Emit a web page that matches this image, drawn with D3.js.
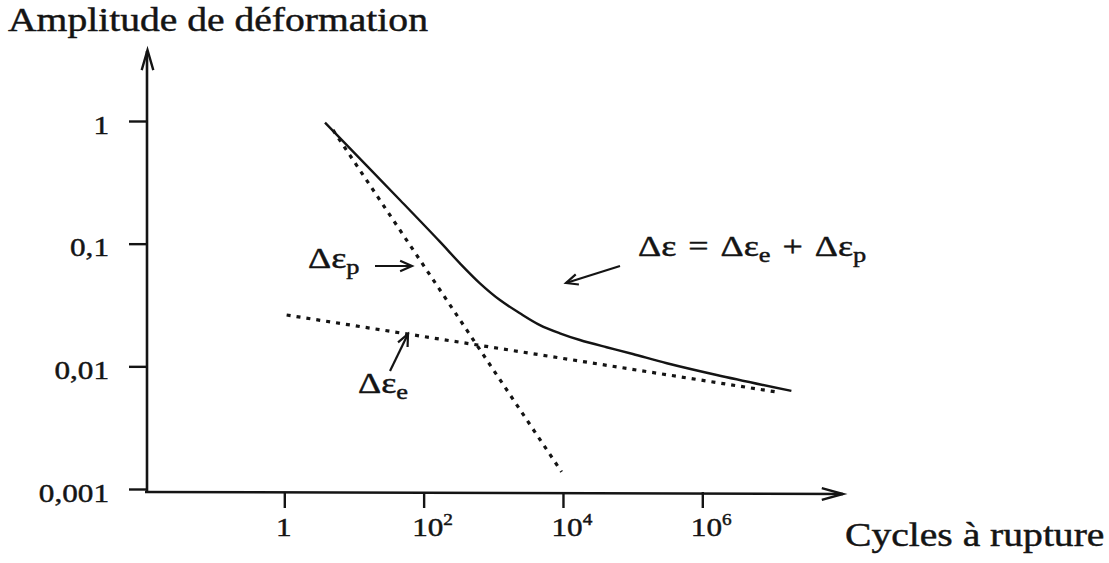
<!DOCTYPE html>
<html>
<head>
<meta charset="utf-8">
<script src="https://cdn.jsdelivr.net/npm/d3@7"></script>
<style>
  html, body { margin: 0; padding: 0; background: #fff; }
  svg { display: block; }
  text { font-family: "Liberation Serif", "Times New Roman", serif; fill: #141414; stroke: #141414; stroke-width: 0.45px; }
</style>
</head>
<body>
<svg id="chart" width="1109" height="563"></svg>
<script>
// Strain–life (Manson–Coffin–Basquin) diagram, log–log axes.
const yTickValues = [0.001, 0.01, 0.1, 1];
const yTickLabels = ["0,001", "0,01", "0,1", "1"];
const xTickValues = [1, 1e2, 1e4, 1e6];
const xTickBase = ["1", "10", "10", "10"];
const xTickExp = ["", "2", "4", "6"];

// Total strain amplitude Δε (solid curve)
const totalCycles = [3.84, 45.7, 171, 332, 643, 1245, 2410, 4670, 9030, 17500, 42300, 100700, 310000, 1.61e6, 1.9e7];
const totalAmp = [0.97, 0.227, 0.1038, 0.0691, 0.0475, 0.0347, 0.0271, 0.0217, 0.0186, 0.0164, 0.0143, 0.0126, 0.0106, 0.0085, 0.0063];

// Plastic part Δεp (dotted, steep)
const plasticCycles = [5.0, 9550];
const plasticAmp = [0.845, 0.00138];

// Elastic part Δεe (dotted, shallow)
const elasticCycles = [1.08, 1.1e7];
const elasticAmp = [0.0262, 0.00621];

const svg = d3.select("#chart");
const ink = "#141414";
const SX = 1.2; // horizontal stretch of the typeset glyphs

const x = d3.scaleLog().domain([1, 1e6]).range([284.3, 702.3]);
const y = d3.scaleLog().domain([0.001, 1]).range([489, 121]);

const axisX0 = 147, axisY0 = 492;

// ---- axes lines with open arrowheads
function chevron(tx, ty, angle, len, spread) {
  const a1 = angle + Math.PI - spread, a2 = angle + Math.PI + spread;
  return `M${tx + len * Math.cos(a1)},${ty + len * Math.sin(a1)}L${tx},${ty}L${tx + len * Math.cos(a2)},${ty + len * Math.sin(a2)}`;
}

svg.append("line").attr("x1", axisX0).attr("y1", axisY0).attr("x2", axisX0).attr("y2", 51)
  .attr("stroke", ink).attr("stroke-width", 2.6);
svg.append("path").attr("d", chevron(axisX0 + 0.5, 50, -Math.PI / 2, 21, 0.28))
  .attr("fill", "none").attr("stroke", ink).attr("stroke-width", 2.4);

svg.append("line").attr("x1", axisX0 - 2).attr("y1", axisY0).attr("x2", 843).attr("y2", axisY0 + 2)
  .attr("stroke", ink).attr("stroke-width", 2.6);
svg.append("path").attr("d", chevron(843, axisY0 + 2, 0, 22, 0.27))
  .attr("fill", "none").attr("stroke", ink).attr("stroke-width", 2.4);

// ---- y axis ticks and labels
const yAxis = d3.axisLeft(y).tickValues(yTickValues).tickSize(18)
  .tickFormat((d, i) => yTickLabels[i]);
const gy = svg.append("g").attr("transform", `translate(${axisX0},0)`).call(yAxis);
gy.select(".domain").remove();
gy.selectAll(".tick line").attr("stroke", ink).attr("stroke-width", 2.4);
gy.selectAll(".tick text")
  .attr("x", null).attr("dy", null)
  .attr("transform", "translate(-38,12) scale(" + SX + ",1)")
  .style("font-size", "26px").style("font-family", "Liberation Serif").attr("fill", ink)
  .attr("text-anchor", "end");

// ---- x axis ticks and labels
const xAxis = d3.axisBottom(x).tickValues(xTickValues).tickSize(16).tickFormat(() => "");
const gx = svg.append("g").attr("transform", `translate(0,${axisY0})`).call(xAxis);
gx.select(".domain").remove();
gx.selectAll(".tick line").attr("stroke", ink).attr("stroke-width", 2.4);
gx.selectAll(".tick text").each(function (d, i) {
  const t = d3.select(this)
    .attr("y", null).attr("dy", null)
    .style("font-size", "26px").style("font-family", "Liberation Serif").attr("fill", ink);
  if (xTickExp[i]) {
    t.attr("text-anchor", "start").attr("transform", "translate(-12,44) scale(" + SX + ",1)");
    t.append("tspan").text(xTickBase[i]);
    t.append("tspan").text(xTickExp[i]).attr("dy", -11).style("font-size", "16px");
  } else {
    t.attr("text-anchor", "middle").attr("transform", "translate(-1,44) scale(" + SX + ",1)");
    t.text(xTickBase[i]);
  }
});

// ---- curves
const line = d3.line().x(d => x(d[0])).y(d => y(d[1]));
const smooth = d3.line().x(d => x(d[0])).y(d => y(d[1])).curve(d3.curveCatmullRom.alpha(0.5));

svg.append("path")
  .datum(d3.zip(elasticCycles, elasticAmp))
  .attr("d", line).attr("fill", "none").attr("stroke", ink)
  .attr("stroke-width", 3.2).attr("stroke-dasharray", "4,6");

svg.append("path")
  .datum(d3.zip(plasticCycles, plasticAmp))
  .attr("d", line).attr("fill", "none").attr("stroke", ink)
  .attr("stroke-width", 3.2).attr("stroke-dasharray", "4,6");

svg.append("path")
  .datum(d3.zip(totalCycles, totalAmp))
  .attr("d", smooth).attr("fill", "none").attr("stroke", ink)
  .attr("stroke-width", 2.4).attr("stroke-linejoin", "round");

// ---- titles
function label(px, py, size) {
  return svg.append("text")
    .attr("transform", `translate(${px},${py}) scale(${SX},1)`)
    .style("font-size", size + "px");
}
label(8, 31, 33).text("Amplitude de déformation");
label(845, 546, 33).text("Cycles à rupture");

// ---- annotations: Δε symbols with subscripts
function deltaEps(px, py, size, parts) {
  const t = label(px, py, size);
  parts.forEach(p => {
    const s = t.append("tspan").text(p.t);
    if (p.sub) s.attr("dy", 6).style("font-size", Math.round(size * 0.72) + "px");
    if (p.up) s.attr("dy", -6);
  });
  return t;
}

deltaEps(308, 268, 30, [{ t: "Δε" }, { t: "p", sub: true }]);
deltaEps(358, 393, 30, [{ t: "Δε" }, { t: "e", sub: true }]);
deltaEps(638, 256, 30, [
  { t: "Δε\u2004=\u2004Δε" }, { t: "e", sub: true }, { t: "\u2004+\u2004Δε", up: true }, { t: "p", sub: true }
]);

// ---- arrows pointing at the curves
function arrow(x1, y1, x2, y2) {
  const ang = Math.atan2(y2 - y1, x2 - x1);
  svg.append("line").attr("x1", x1).attr("y1", y1).attr("x2", x2).attr("y2", y2)
    .attr("stroke", ink).attr("stroke-width", 2.2);
  svg.append("path").attr("d", chevron(x2, y2, ang, 13, 0.42))
    .attr("fill", "none").attr("stroke", ink).attr("stroke-width", 2.2);
}
arrow(375, 266, 412, 266);
arrow(390, 371, 408, 334);
arrow(620, 266, 566, 283);
</script>
</body>
</html>
